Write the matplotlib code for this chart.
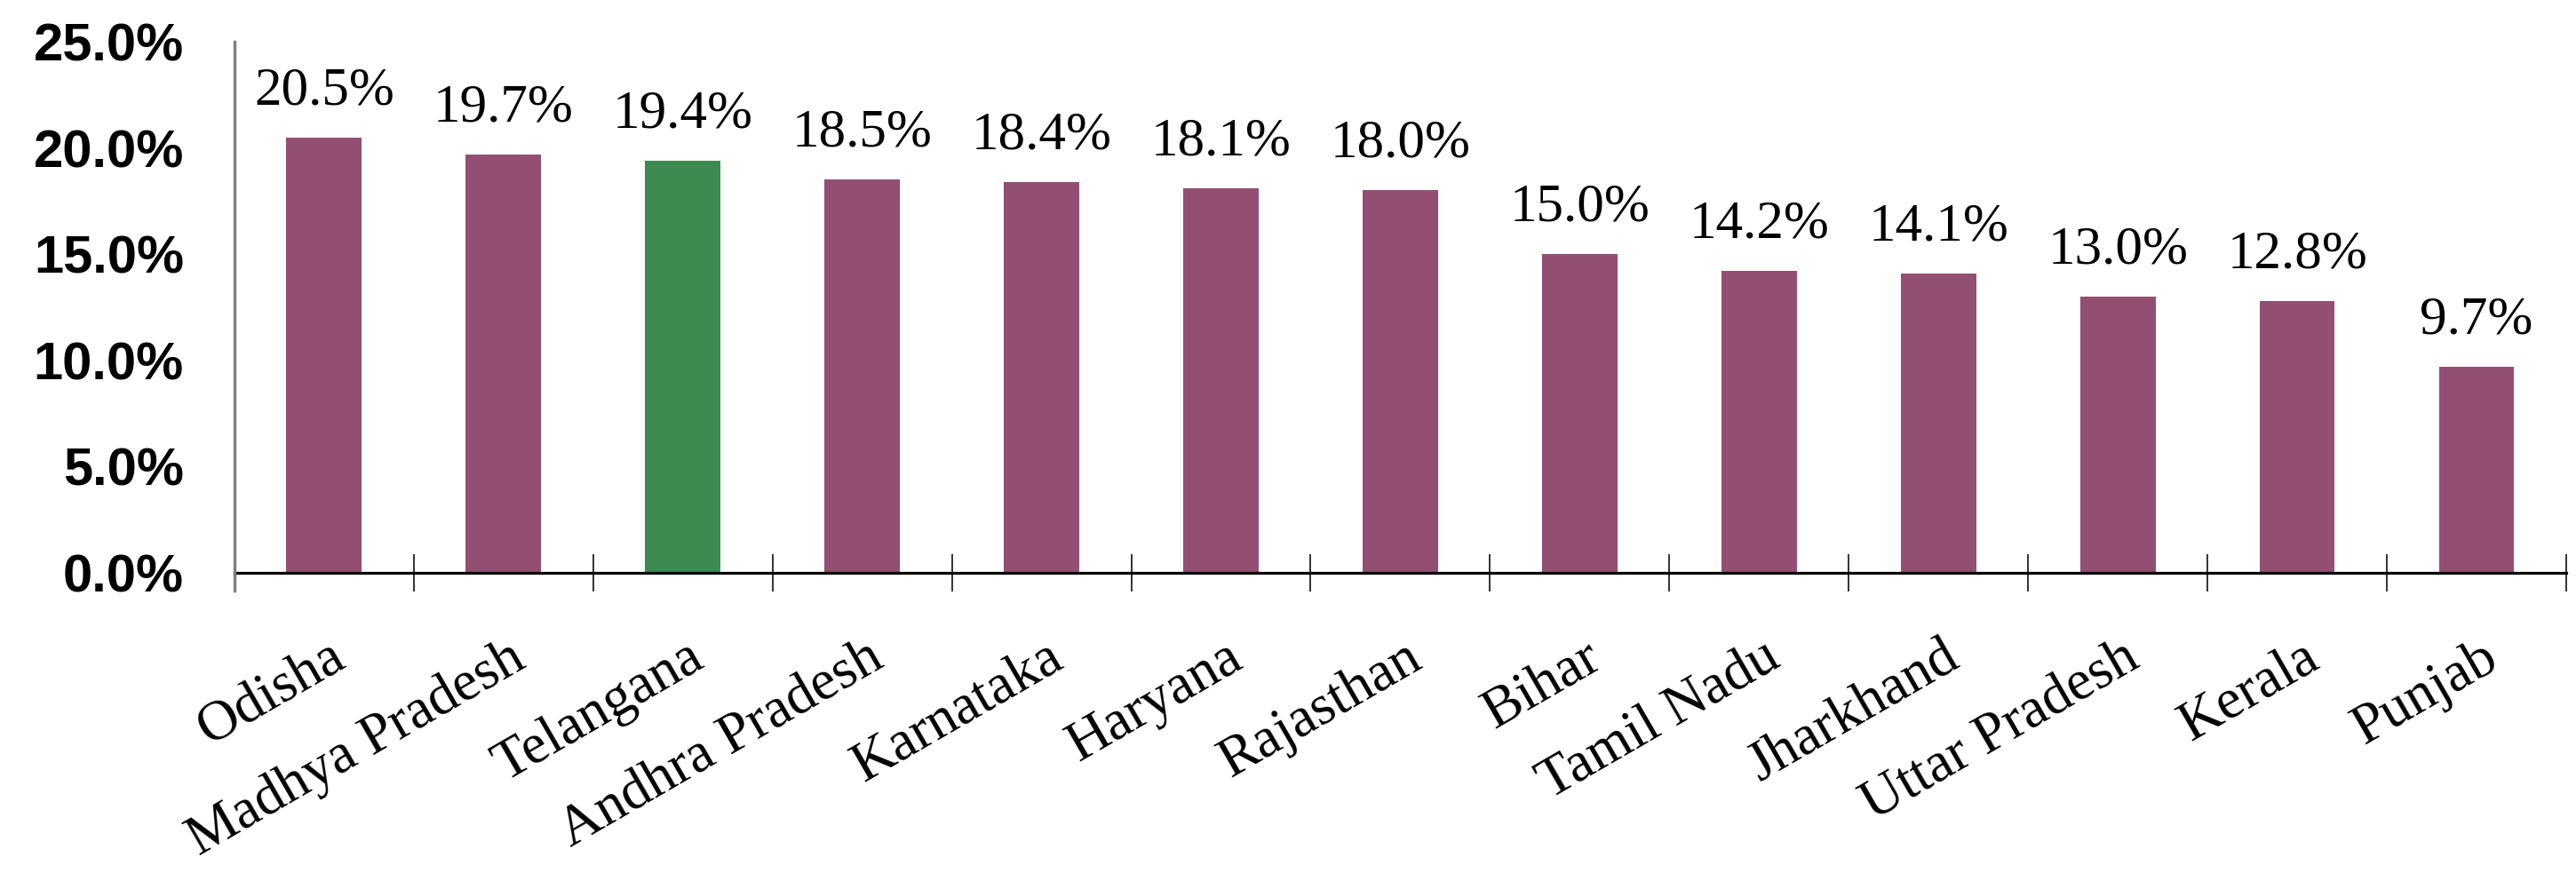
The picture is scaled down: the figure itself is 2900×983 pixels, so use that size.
import matplotlib.pyplot as plt
import matplotlib.transforms as mtransforms
import numpy as np

states = ['Odisha', 'Madhya Pradesh', 'Telangana', 'Andhra Pradesh', 'Karnataka',
          'Haryana', 'Rajasthan', 'Bihar', 'Tamil Nadu', 'Jharkhand',
          'Uttar Pradesh', 'Kerala', 'Punjab']
values = [20.5, 19.7, 19.4, 18.5, 18.4, 18.1, 18.0, 15.0, 14.2, 14.1, 13.0, 12.8, 9.7]
highlight = 'Telangana'
yticks = [0, 5, 10, 15, 20, 25]

purple = '#924F71'
green = '#3D8B50'

fig = plt.figure(figsize=(29, 9.83), dpi=100)
# axes box: y from -0.85 to 25, x-axis line sits at 0
ax = fig.add_axes([0.091, 0.3235, 0.9052, 0.6287])

x = np.arange(len(states))
colors = [green if s == highlight else purple for s in states]
ax.bar(x, values, width=0.42, color=colors, zorder=2)

# value labels above the bars
for xi, v in zip(x, values):
    ax.annotate(f'{v:.1f}%', (xi, v), xytext=(0, 27), textcoords='offset points',
                ha='center', va='baseline', fontsize=44, family='Liberation Serif',
                color='black')

ax.set_xlim(-0.5, len(states) - 0.5)
ax.set_ylim(-0.85, 25)

for s in ['top', 'right']:
    ax.spines[s].set_visible(False)
ax.spines['bottom'].set_position(('data', 0))
ax.spines['bottom'].set_linewidth(2.3)
ax.spines['bottom'].set_color('black')
ax.spines['left'].set_linewidth(2.5)
ax.spines['left'].set_color('#808080')
ax.spines['left'].set_zorder(3)

ax.set_yticks(yticks)
ax.set_yticklabels([f'{t:.1f}%' for t in yticks], fontsize=43, fontweight='bold',
                   family='Liberation Sans')
ax.tick_params(axis='y', length=0, pad=41)

# category labels at bar centres, tick marks at the category boundaries
ax.set_xticks(x)
ax.set_xticklabels(states, rotation=30, ha='right', rotation_mode='anchor',
                   fontsize=46, family='Liberation Serif')
ax.tick_params(axis='x', which='major', length=0, pad=48)
ax.set_xticks(np.arange(0.5, len(states), 1.0), minor=True)
ax.tick_params(axis='x', which='minor', direction='inout', length=30, width=1.3,
               color='#222222')

offset = mtransforms.ScaledTranslation(5 / 100, 0, fig.dpi_scale_trans)
for lab in ax.get_xticklabels():
    lab.set_transform(lab.get_transform() + offset)

fig.savefig('out.png', dpi=100)
